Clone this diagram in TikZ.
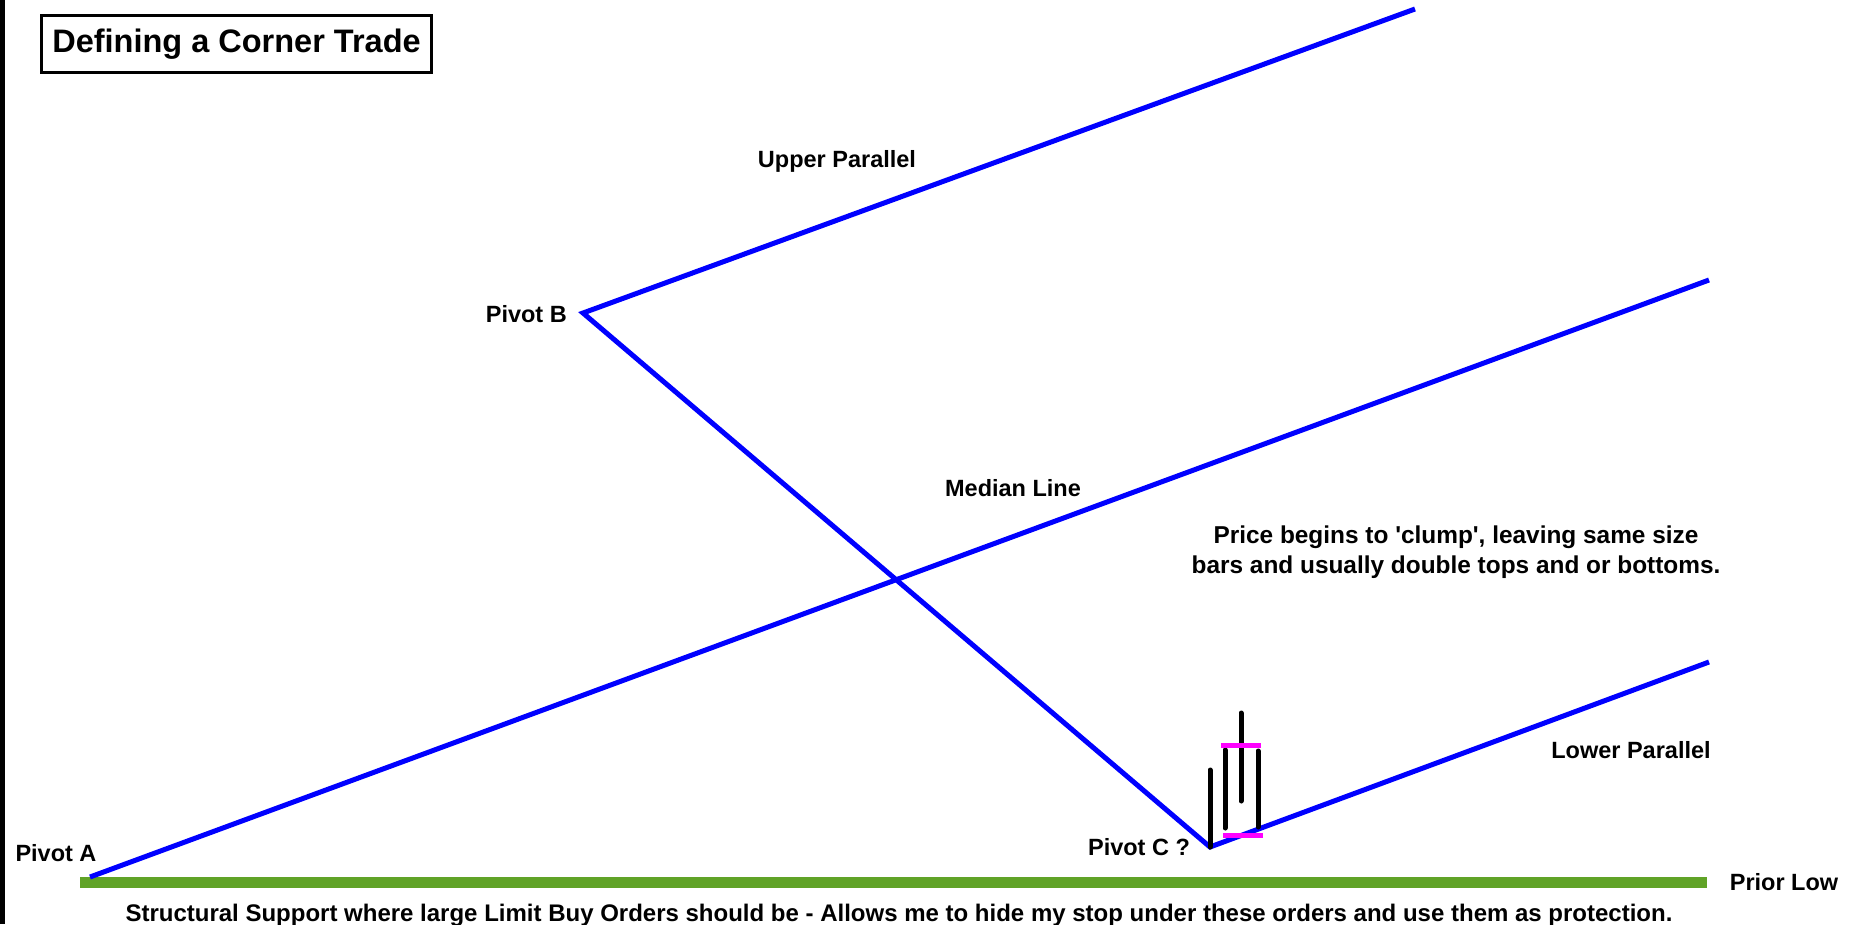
\documentclass[tikz,border=0pt]{standalone}
\usepackage{fontspec}
\setmainfont{Liberation Sans}[Ligatures=TeXOff]
\definecolor{fork}{RGB}{0,0,255}
\definecolor{support}{RGB}{96,163,39}
\definecolor{band}{RGB}{255,0,255}
\begin{document}
\begin{tikzpicture}[x=1pt,y=-1pt,
  lbl/.style={font=\fontsize{23.5}{28}\selectfont\bfseries, inner sep=0pt, anchor=base},
  note/.style={font=\fontsize{24.4}{29.5}\selectfont\bfseries, inner sep=0pt, anchor=base},
  forkline/.style={draw=fork, line width=5pt, line join=miter},
  bar/.style={draw=black, line width=5pt, line cap=round},
  bandline/.style={draw=band, line width=5pt}]
\useasboundingbox (0,0) rectangle (1861,924);
\fill[white] (0,0) rectangle (1861,924);
\fill[black] (0,0) rectangle (5,924);

% title box
\node[draw=black, line width=3pt, minimum width=390pt, minimum height=57pt,
      inner sep=0pt, font=\fontsize{32.5}{38}\selectfont\bfseries] (title)
      at (236.5,44) {Defining a Corner Trade};

% pivots and line ends
\coordinate (pA) at (90,877);
\coordinate (pB) at (583,313);
\coordinate (pC) at (1210,847);
\coordinate (upEnd) at (1415,9);
\coordinate (medEnd) at (1709,280);
\coordinate (lowEnd) at (1709,662);
\coordinate (supL) at (80,882);
\coordinate (supR) at (1707,882);

% prior low support
\draw[draw=support, line width=11pt] (supL) -- (supR);

% pitchfork
\draw[forkline] (pA) -- (medEnd);
\draw[forkline] (upEnd) -- (pB) -- (pC) -- (lowEnd);

% clumping bars
\coordinate (b1t) at (1210,770); \coordinate (b1b) at (1210,847);
\coordinate (b2t) at (1225,750); \coordinate (b2b) at (1225,828);
\coordinate (b3t) at (1241,713); \coordinate (b3b) at (1241,801);
\coordinate (b4t) at (1258,751); \coordinate (b4b) at (1258,827);
\draw[bar] (b1t) -- (b1b);
\draw[bar] (b2t) -- (b2b);
\draw[bar] (b3t) -- (b3b);
\draw[bar] (b4t) -- (b4b);
\coordinate (topL) at (1221,745); \coordinate (topR) at (1261,745);
\coordinate (botL) at (1223,835); \coordinate (botR) at (1263,835);
\draw[bandline] (topL) -- (topR);
\draw[bandline] (botL) -- (botR);

% labels
\node[lbl] (lup) at (837,167) {Upper Parallel};
\node[lbl, anchor=base east] (lB) at (567,322) {Pivot B};
\node[lbl] (lmed) at (1013,496) {Median Line};
\node[note, align=center] (lclump) at (1456,573)
  {Price begins to 'clump', leaving same size\\bars and usually double tops and or bottoms.};
\node[lbl] (llow) at (1631,758) {Lower Parallel};
\node[lbl] (lA) at (56,861) {Pivot A};
\node[lbl] (lC) at (1139,855) {Pivot C ?};
\node[lbl] (lprior) at (1784,890) {Prior Low};
\node[note, font=\fontsize{24}{29}\selectfont\bfseries] (lsupport) at (899,921)
  {Structural Support where large Limit Buy Orders should be - Allows me to hide my stop under these orders and use them as protection.};
\end{tikzpicture}
\end{document}
